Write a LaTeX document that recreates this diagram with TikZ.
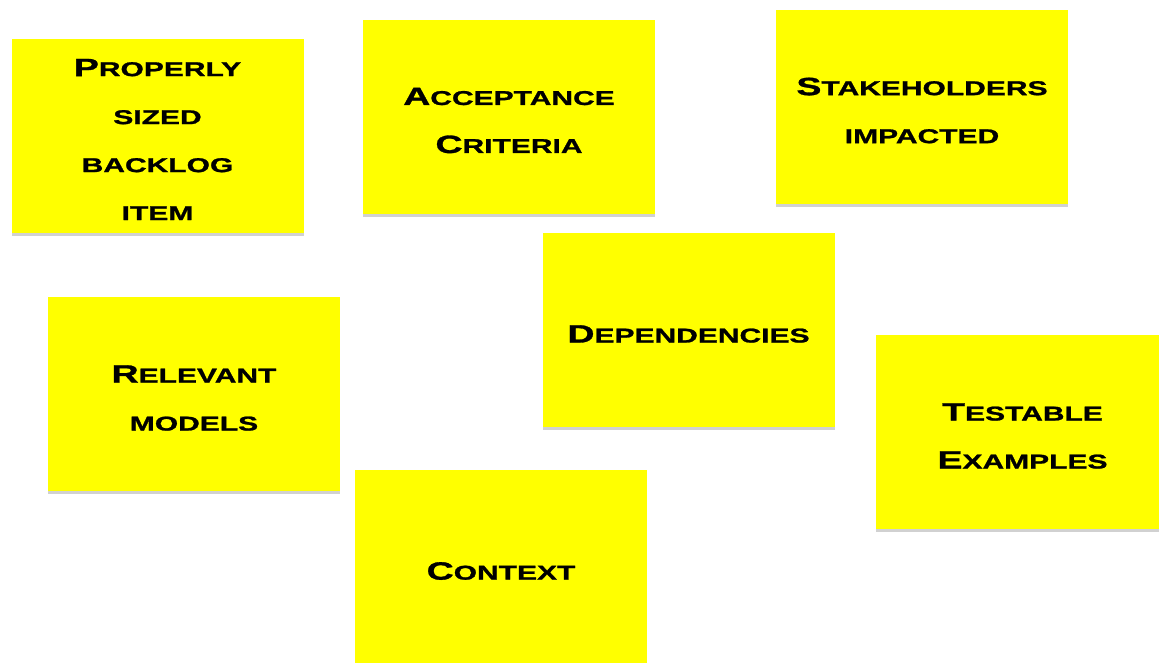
\documentclass[tikz,border=0pt]{standalone}
\usepackage{fontspec}
\usetikzlibrary{shadows}
\newfontfamily\notefont[FakeStretch=1.5,FakeBold=1.2]{Liberation Sans}
\newcommand\bigL[1]{{\fontsize{25}{47}\selectfont #1}}
\definecolor{noteyellow}{HTML}{FFFF00}
\tikzset{
  note/.style={fill=noteyellow, minimum width=292pt, minimum height=194pt,
    inner sep=0pt,
    drop shadow={shadow xshift=0pt, shadow yshift=-3pt, opacity=0.3, fill=black!60}},
  notetext/.style={align=center, text=black, inner sep=0pt, yshift=-4pt,
    font=\notefont\bfseries\fontsize{20}{48}\selectfont}
}
\begin{document}
\begin{tikzpicture}[x=1pt,y=-1pt]
\useasboundingbox (0,0) rectangle (1159,662);
\node[note] (properly) at (157.5,135.5) {};
\node[notetext] (properlyT) at (properly.center) {\bigL{P}ROPERLY\\SIZED\\BACKLOG\\ITEM};
\node[note] (accept) at (509,116.5) {};
\node[notetext] (acceptT) at (accept.center) {\bigL{A}CCEPTANCE\\\bigL{C}RITERIA};
\node[note] (stake) at (922,106.5) {};
\node[notetext] (stakeT) at (stake.center) {\bigL{S}TAKEHOLDERS\\IMPACTED};
\node[note] (dep) at (688.5,330) {};
\node[notetext] (depT) at (dep.center) {\bigL{D}EPENDENCIES};
\node[note] (relevant) at (194,394) {};
\node[notetext] (relevantT) at (relevant.center) {\bigL{R}ELEVANT\\MODELS};
\node[note, minimum width=283pt] (test) at (1017.5,432) {};
\node[notetext, xshift=5pt] (testT) at (test.center) {\bigL{T}ESTABLE\\\bigL{E}XAMPLES};
\node[note] (context) at (501,567) {};
\node[notetext] (contextT) at (context.center) {\bigL{C}ONTEXT};
\end{tikzpicture}
\end{document}
